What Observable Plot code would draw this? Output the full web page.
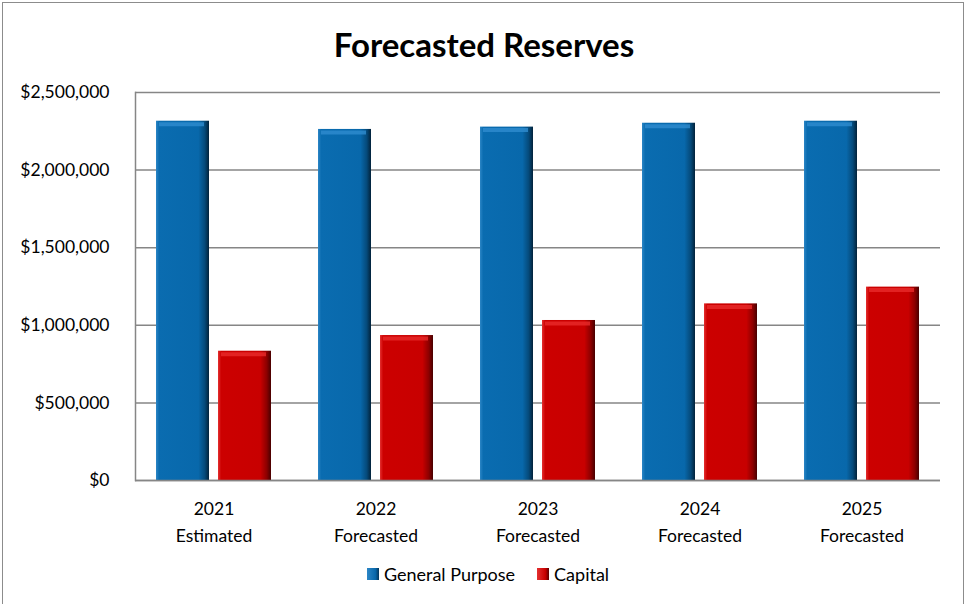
<!DOCTYPE html>
<html><head><meta charset="utf-8">
<script src="https://cdn.jsdelivr.net/npm/d3@7"></script>
<script src="https://cdn.jsdelivr.net/npm/@observablehq/plot@0.6"></script>
<style>
body{margin:0;background:#fff;font-family:Lato, "Open Sans", sans-serif;}
#wrap{position:relative;width:968px;height:604px;overflow:hidden;background:#fff;}
#border{position:absolute;left:2px;top:2px;width:960px;height:620px;border:1px solid #8c8c8c;}
#title{position:absolute;left:0;width:968px;top:24px;text-align:center;font-weight:bold;font-size:33px;color:#000;line-height:40px;}
#chart{position:absolute;left:0;top:0;}
#legend{position:absolute;top:563px;left:4px;width:968px;display:flex;justify-content:center;align-items:center;font-size:18px;color:#000;}
.item{display:flex;align-items:center;margin:0 11px;}
.sw{width:12px;height:12px;margin-right:5px;}
</style></head>
<body>
<div id="wrap">
  <div id="border"></div>
  <div id="chart"></div>
  <div id="title">Forecasted Reserves</div>
  <div id="legend"></div>
</div>
<script>
const years = ["2021", "2022", "2023", "2024", "2025"];
const stages = ["Estimated", "Forecasted", "Forecasted", "Forecasted", "Forecasted"];
const seriesNames = ["General Purpose", "Capital"];
const generalPurpose = [2315000, 2262000, 2277000, 2302000, 2315000];
const capital = [833000, 934000, 1031000, 1138000, 1246000];
const yTicks = [0, 500000, 1000000, 1500000, 2000000, 2500000];

const rows = years.map((y, i) => ({year: y, gp: generalPurpose[i], cap: capital[i]}));

const chart = Plot.plot({
  width: 968, height: 604,
  marginTop: 92, marginBottom: 124, marginLeft: 135, marginRight: 28,
  style: {fontFamily: "Lato, 'Open Sans', sans-serif", fontSize: "17px", color: "#000", background: "transparent"},
  x: {domain: years, paddingInner: 0.291, paddingOuter: 0.128, label: null},
  y: {domain: [0, 2500000], label: null},
  marks: [
    Plot.gridY(yTicks, {stroke: "#868686", strokeOpacity: 1, strokeWidth: 1.5}),
    Plot.barY(rows, {x: "year", y: "gp", fill: "url(#gpGrad)", insetRight: 62}),
    Plot.barY(rows, {x: "year", y: "cap", fill: "url(#capGrad)", insetLeft: 62}),
    Plot.tickY(rows, {x: "year", y: "gp", stroke: "#2f8ccf", strokeOpacity: 0.8, strokeWidth: 4, dy: 3, insetLeft: 3, insetRight: 62 + 5}),
    Plot.tickY(rows, {x: "year", y: "cap", stroke: "#e82a2a", strokeOpacity: 0.8, strokeWidth: 4, dy: 3, insetLeft: 62 + 3, insetRight: 5}),
    Plot.ruleY([0], {stroke: "#868686", strokeWidth: 1.5}),
    Plot.frame({anchor: "left", stroke: "#868686", strokeWidth: 1.5}),
    Plot.axisY(yTicks, {tickSize: 0, tickPadding: 26, tickFormat: d => "$" + d3.format(",")(d), fontSize: 17.5}),
    Plot.axisX({tickSize: 0, tickPadding: 15, tickFormat: d => d + "\n" + stages[years.indexOf(d)], fontSize: 17.5, lineHeight: 1.55})
  ]
});

const defs = d3.select(chart).insert("defs", ":first-child");
function grad(id, stops) {
  const g = defs.append("linearGradient").attr("id", id).attr("x1", "0").attr("x2", "1").attr("y1", "0").attr("y2", "0");
  stops.forEach(([o, c]) => g.append("stop").attr("offset", o).attr("stop-color", c));
}
grad("gpGrad", [[0, "#2c86c6"], [0.06, "#0a6cb0"], [0.8, "#0868ab"], [0.92, "#054a7a"], [1, "#02223a"]]);
grad("capGrad", [[0, "#e43030"], [0.06, "#cc0000"], [0.8, "#c80000"], [0.92, "#8c0000"], [1, "#480000"]]);
document.getElementById("chart").appendChild(chart);

const legendColors = ["linear-gradient(90deg,#2c86c6,#0868ab 70%,#03355a)", "linear-gradient(90deg,#e43030,#c80000 70%,#5a0000)"];
const legend = document.getElementById("legend");
seriesNames.forEach((name, i) => {
  const it = document.createElement("div");
  it.className = "item";
  it.innerHTML = `<div class="sw" style="background:${legendColors[i]}"></div><span>${name}</span>`;
  legend.appendChild(it);
});
</script>
</body></html>
